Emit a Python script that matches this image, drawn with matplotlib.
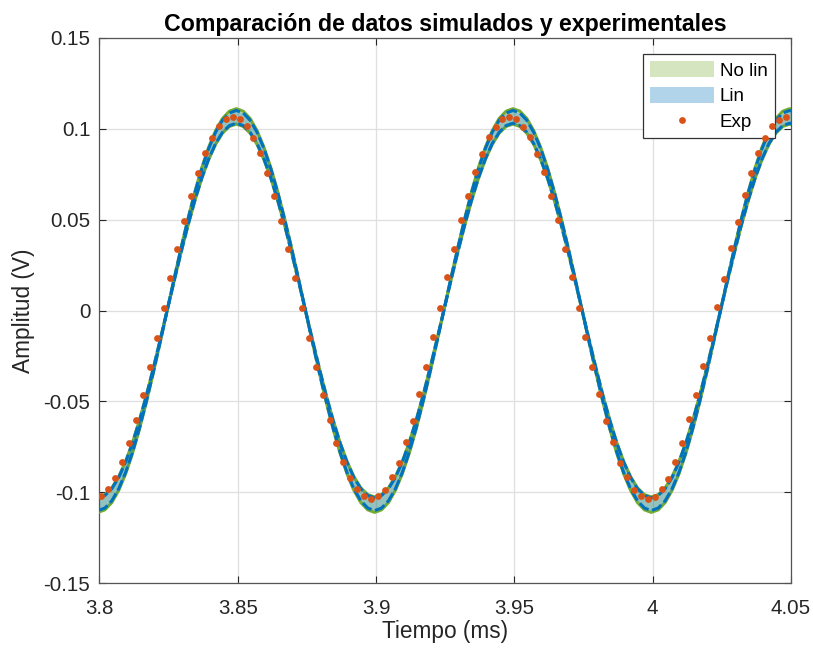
import matplotlib
matplotlib.use("Agg")
import matplotlib.pyplot as plt

plt.rcParams["font.family"] = ["Liberation Sans", "DejaVu Sans"]

# time base of the simulations (ms)
t_sim = [
    3.7995,
    3.8020, 3.8045, 3.8070, 3.8095, 3.8120, 3.8145, 3.8170, 3.8195,
    3.8220, 3.8245, 3.8270, 3.8295, 3.8320, 3.8345, 3.8370, 3.8395,
    3.8420, 3.8445, 3.8470, 3.8495, 3.8520, 3.8545, 3.8570, 3.8595,
    3.8620, 3.8645, 3.8670, 3.8695, 3.8720, 3.8745, 3.8770, 3.8795,
    3.8820, 3.8845, 3.8870, 3.8895, 3.8920, 3.8945, 3.8970, 3.8995,
    3.9020, 3.9045, 3.9070, 3.9095, 3.9120, 3.9145, 3.9170, 3.9195,
    3.9220, 3.9245, 3.9270, 3.9295, 3.9320, 3.9345, 3.9370, 3.9395,
    3.9420, 3.9445, 3.9470, 3.9495, 3.9520, 3.9545, 3.9570, 3.9595,
    3.9620, 3.9645, 3.9670, 3.9695, 3.9720, 3.9745, 3.9770, 3.9795,
    3.9820, 3.9845, 3.9870, 3.9895, 3.9920, 3.9945, 3.9970, 3.9995,
    4.0020, 4.0045, 4.0070, 4.0095, 4.0120, 4.0145, 4.0170, 4.0195,
    4.0220, 4.0245, 4.0270, 4.0295, 4.0320, 4.0345, 4.0370, 4.0395,
    4.0420, 4.0445, 4.0470, 4.0495,
    4.0520,
]

# non-linear model: envelope of the simulated runs (V)
nolin_outer = [
    -0.1110, -0.1096, -0.1056, -0.0989, -0.0898, -0.0785, -0.0652, -0.0504, -0.0343, -0.0174,
    0.0000, 0.0174, 0.0343, 0.0504, 0.0652, 0.0785, 0.0898, 0.0989, 0.1056, 0.1096,
    0.1110, 0.1096, 0.1056, 0.0989, 0.0898, 0.0785, 0.0652, 0.0504, 0.0343, 0.0174,
    0.0000, -0.0174, -0.0343, -0.0504, -0.0652, -0.0785, -0.0898, -0.0989, -0.1056, -0.1096,
    -0.1110, -0.1096, -0.1056, -0.0989, -0.0898, -0.0785, -0.0652, -0.0504, -0.0343, -0.0174,
    0.0000, 0.0174, 0.0343, 0.0504, 0.0652, 0.0785, 0.0898, 0.0989, 0.1056, 0.1096,
    0.1110, 0.1096, 0.1056, 0.0989, 0.0898, 0.0785, 0.0652, 0.0504, 0.0343, 0.0174,
    0.0000, -0.0174, -0.0343, -0.0504, -0.0652, -0.0785, -0.0898, -0.0989, -0.1056, -0.1096,
    -0.1110, -0.1096, -0.1056, -0.0989, -0.0898, -0.0785, -0.0652, -0.0504, -0.0343, -0.0174,
    0.0000, 0.0174, 0.0343, 0.0504, 0.0652, 0.0785, 0.0898, 0.0989, 0.1056, 0.1096,
    0.1110, 0.1096,
]
nolin_inner = [
    -0.1025, -0.1012, -0.0975, -0.0913, -0.0829, -0.0725, -0.0602, -0.0465, -0.0317, -0.0160,
    0.0000, 0.0160, 0.0317, 0.0465, 0.0602, 0.0725, 0.0829, 0.0913, 0.0975, 0.1012,
    0.1025, 0.1012, 0.0975, 0.0913, 0.0829, 0.0725, 0.0602, 0.0465, 0.0317, 0.0160,
    0.0000, -0.0160, -0.0317, -0.0465, -0.0602, -0.0725, -0.0829, -0.0913, -0.0975, -0.1012,
    -0.1025, -0.1012, -0.0975, -0.0913, -0.0829, -0.0725, -0.0602, -0.0465, -0.0317, -0.0160,
    0.0000, 0.0160, 0.0317, 0.0465, 0.0602, 0.0725, 0.0829, 0.0913, 0.0975, 0.1012,
    0.1025, 0.1012, 0.0975, 0.0913, 0.0829, 0.0725, 0.0602, 0.0465, 0.0317, 0.0160,
    0.0000, -0.0160, -0.0317, -0.0465, -0.0602, -0.0725, -0.0829, -0.0913, -0.0975, -0.1012,
    -0.1025, -0.1012, -0.0975, -0.0913, -0.0829, -0.0725, -0.0602, -0.0465, -0.0317, -0.0160,
    0.0000, 0.0160, 0.0317, 0.0465, 0.0602, 0.0725, 0.0829, 0.0913, 0.0975, 0.1012,
    0.1025, 0.1012,
]

# linear model envelope (V)
lin_outer = [
    -0.1100, -0.1086, -0.1046, -0.0980, -0.0890, -0.0778, -0.0647, -0.0499, -0.0340, -0.0172,
    0.0000, 0.0172, 0.0340, 0.0499, 0.0647, 0.0778, 0.0890, 0.0980, 0.1046, 0.1086,
    0.1100, 0.1086, 0.1046, 0.0980, 0.0890, 0.0778, 0.0647, 0.0499, 0.0340, 0.0172,
    0.0000, -0.0172, -0.0340, -0.0499, -0.0647, -0.0778, -0.0890, -0.0980, -0.1046, -0.1086,
    -0.1100, -0.1086, -0.1046, -0.0980, -0.0890, -0.0778, -0.0647, -0.0499, -0.0340, -0.0172,
    0.0000, 0.0172, 0.0340, 0.0499, 0.0647, 0.0778, 0.0890, 0.0980, 0.1046, 0.1086,
    0.1100, 0.1086, 0.1046, 0.0980, 0.0890, 0.0778, 0.0647, 0.0499, 0.0340, 0.0172,
    0.0000, -0.0172, -0.0340, -0.0499, -0.0647, -0.0778, -0.0890, -0.0980, -0.1046, -0.1086,
    -0.1100, -0.1086, -0.1046, -0.0980, -0.0890, -0.0778, -0.0647, -0.0499, -0.0340, -0.0172,
    0.0000, 0.0172, 0.0340, 0.0499, 0.0647, 0.0778, 0.0890, 0.0980, 0.1046, 0.1086,
    0.1100, 0.1086,
]
lin_inner = [
    -0.1030, -0.1017, -0.0980, -0.0918, -0.0833, -0.0728, -0.0605, -0.0468, -0.0318, -0.0161,
    0.0000, 0.0161, 0.0318, 0.0468, 0.0605, 0.0728, 0.0833, 0.0918, 0.0980, 0.1017,
    0.1030, 0.1017, 0.0980, 0.0918, 0.0833, 0.0728, 0.0605, 0.0468, 0.0318, 0.0161,
    0.0000, -0.0161, -0.0318, -0.0468, -0.0605, -0.0728, -0.0833, -0.0918, -0.0980, -0.1017,
    -0.1030, -0.1017, -0.0980, -0.0918, -0.0833, -0.0728, -0.0605, -0.0468, -0.0318, -0.0161,
    0.0000, 0.0161, 0.0318, 0.0468, 0.0605, 0.0728, 0.0833, 0.0918, 0.0980, 0.1017,
    0.1030, 0.1017, 0.0980, 0.0918, 0.0833, 0.0728, 0.0605, 0.0468, 0.0318, 0.0161,
    0.0000, -0.0161, -0.0318, -0.0468, -0.0605, -0.0728, -0.0833, -0.0918, -0.0980, -0.1017,
    -0.1030, -0.1017, -0.0980, -0.0918, -0.0833, -0.0728, -0.0605, -0.0468, -0.0318, -0.0161,
    0.0000, 0.0161, 0.0318, 0.0468, 0.0605, 0.0728, 0.0833, 0.0918, 0.0980, 0.1017,
    0.1030, 0.1017,
]

# oscilloscope capture (ms, V)
t_exp = [
    3.8007, 3.8032, 3.8057, 3.8082, 3.8107, 3.8132, 3.8157, 3.8182, 3.8207, 3.8232,
    3.8257, 3.8282, 3.8307, 3.8332, 3.8357, 3.8382, 3.8407, 3.8432, 3.8457, 3.8482,
    3.8507, 3.8532, 3.8557, 3.8582, 3.8607, 3.8632, 3.8657, 3.8682, 3.8707, 3.8732,
    3.8757, 3.8782, 3.8807, 3.8832, 3.8857, 3.8882, 3.8907, 3.8932, 3.8957, 3.8982,
    3.9007, 3.9032, 3.9057, 3.9082, 3.9107, 3.9132, 3.9157, 3.9182, 3.9207, 3.9232,
    3.9257, 3.9282, 3.9307, 3.9332, 3.9357, 3.9382, 3.9407, 3.9432, 3.9457, 3.9482,
    3.9507, 3.9532, 3.9557, 3.9582, 3.9607, 3.9632, 3.9657, 3.9682, 3.9707, 3.9732,
    3.9757, 3.9782, 3.9807, 3.9832, 3.9857, 3.9882, 3.9907, 3.9932, 3.9957, 3.9982,
    4.0007, 4.0032, 4.0057, 4.0082, 4.0107, 4.0132, 4.0157, 4.0182, 4.0207, 4.0232,
    4.0257, 4.0282, 4.0307, 4.0332, 4.0357, 4.0382, 4.0407, 4.0432, 4.0457, 4.0482,
]
v_exp = [
    -0.1022, -0.0984, -0.0921, -0.0834, -0.0727, -0.0602, -0.0462, -0.0310, -0.0149, 0.0015,
    0.0179, 0.0339, 0.0492, 0.0632, 0.0757, 0.0864, 0.0951, 0.1014, 0.1052, 0.1065,
    0.1052, 0.1014, 0.0951, 0.0864, 0.0757, 0.0632, 0.0492, 0.0339, 0.0179, 0.0015,
    -0.0149, -0.0310, -0.0462, -0.0602, -0.0727, -0.0834, -0.0921, -0.0984, -0.1022, -0.1035,
    -0.1019, -0.0987, -0.0918, -0.0838, -0.0724, -0.0605, -0.0459, -0.0313, -0.0146, 0.0012,
    0.0182, 0.0336, 0.0495, 0.0629, 0.0760, 0.0861, 0.0954, 0.1011, 0.1055, 0.1063,
    0.1054, 0.1011, 0.0954, 0.0861, 0.0760, 0.0629, 0.0495, 0.0336, 0.0182, 0.0012,
    -0.0146, -0.0313, -0.0459, -0.0605, -0.0724, -0.0838, -0.0918, -0.0987, -0.1019, -0.1037,
    -0.1024, -0.0981, -0.0924, -0.0831, -0.0730, -0.0599, -0.0465, -0.0307, -0.0152, 0.0018,
    0.0176, 0.0342, 0.0489, 0.0635, 0.0754, 0.0867, 0.0948, 0.1017, 0.1049, 0.1066,
]

x_ticks = [3.8, 3.85, 3.9, 3.95, 4.0, 4.05]
x_ticklabels = ["3.8", "3.85", "3.9", "3.95", "4", "4.05"]
y_ticks = [-0.15, -0.1, -0.05, 0, 0.05, 0.1, 0.15]
y_ticklabels = ["-0.15", "-0.1", "-0.05", "0", "0.05", "0.1", "0.15"]

GREEN = "#77AC30"
BLUE = "#0072BD"
ORANGE = "#D95319"
AXC = "#262626"

fig = plt.figure(figsize=(8.13, 6.48), dpi=100)
ax = fig.add_axes([0.1222, 0.0998, 0.973 - 0.1222, 0.9418 - 0.0998])

ax.fill_between(t_sim, nolin_inner, nolin_outer, color=GREEN, alpha=0.3,
                lw=0, label="No lin", zorder=2)
ax.plot(t_sim, nolin_outer, color=GREEN, lw=2.2, zorder=3)
ax.plot(t_sim, nolin_inner, color=GREEN, lw=2.2, zorder=3)
ax.fill_between(t_sim, lin_inner, lin_outer, color=BLUE, alpha=0.3,
                lw=0, label="Lin", zorder=4)
ax.plot(t_sim, lin_outer, color=BLUE, lw=2.2, dashes=(3.6, 1.2), zorder=5)
ax.plot(t_sim, lin_inner, color=BLUE, lw=2.2, dashes=(3.6, 1.2), zorder=5)
ax.plot(t_exp, v_exp, "o", color=ORANGE, ms=4.9, mew=0, label="Exp", zorder=6)

ax.set_xlim(3.8, 4.05)
ax.set_ylim(-0.15, 0.15)
ax.set_xticks(x_ticks, x_ticklabels)
ax.set_yticks(y_ticks, y_ticklabels)
ax.tick_params(direction="in", length=5, width=0.8, color=AXC, labelcolor=AXC,
               labelsize=14.8, top=True, right=True)
ax.tick_params(axis="x", pad=11)
ax.tick_params(axis="y", pad=6.5)
for s in ax.spines.values():
    s.set_color("#555555")
    s.set_linewidth(0.9)
ax.grid(True, color="#dfdfdf", lw=0.9)
ax.set_axisbelow(True)

ax.set_xlabel("Tiempo (ms)", fontsize=16.3, color=AXC, labelpad=2)
ax.set_ylabel("Amplitud (V)", fontsize=16.3, color=AXC, labelpad=6)
ax.set_title("Comparación de datos simulados y experimentales",
             fontsize=16.7, fontweight="bold", pad=5)

leg = ax.legend(loc="upper right", fontsize=13.5, frameon=True, fancybox=False,
                edgecolor="#333333", framealpha=1, borderaxespad=0.85,
                handlelength=3.4, handleheight=0.95, handletextpad=0.3,
                labelspacing=0.38, borderpad=0.4)
leg.get_frame().set_linewidth(0.9)

fig.savefig("out.png", dpi=100)
